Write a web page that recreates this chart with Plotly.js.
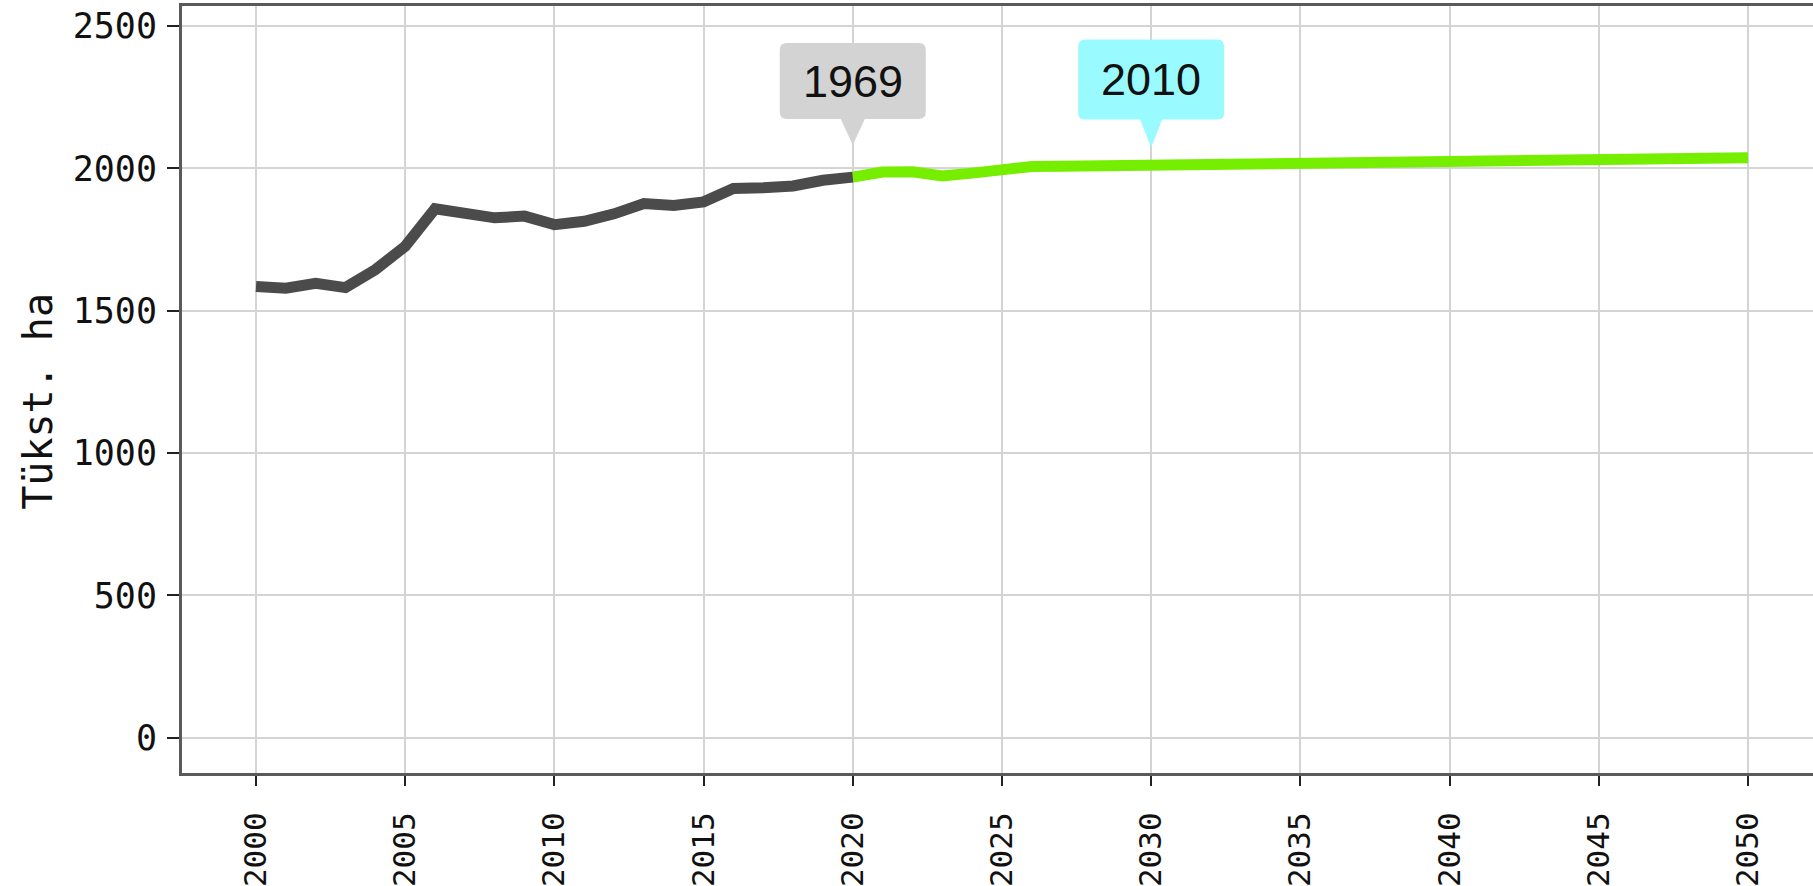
<!DOCTYPE html>
<html>
<head>
<meta charset="utf-8">
<script src="https://cdn.plot.ly/plotly-3.0.1.min.js"></script>
<style>
  html, body { margin: 0; padding: 0; background: #ffffff; }
  #chart { width: 1813px; height: 886px; }
</style>
</head>
<body>
<div id="chart"></div>
<script>
// ---- data ----
const histYears = [2000, 2001, 2002, 2003, 2004, 2005, 2006, 2007, 2008, 2009, 2010,
                   2011, 2012, 2013, 2014, 2015, 2016, 2017, 2018, 2019, 2020];
const histValues = [1585, 1579, 1596, 1581, 1644, 1726, 1858, 1841, 1826, 1832, 1802,
                    1814, 1840, 1876, 1869, 1882, 1929, 1932, 1938, 1958, 1969];

const projYears = [2020, 2021, 2022, 2023, 2024, 2025, 2026, 2027, 2028, 2029, 2030,
                   2031, 2032, 2033, 2034, 2035, 2036, 2037, 2038, 2039, 2040,
                   2041, 2042, 2043, 2044, 2045, 2046, 2047, 2048, 2049, 2050];
const projValues = [1969, 1987, 1988, 1973, 1983, 1997, 2006, 2007, 2008, 2009, 2010,
                    2011, 2013, 2014, 2015, 2016, 2018, 2019, 2020, 2022, 2023,
                    2024, 2026, 2027, 2028, 2030, 2031, 2033, 2034, 2036, 2037];

const labelYears = [2020, 2030];
const labelValues = [1969, 2010];
const labelTexts = ["1969", "2010"];

const yTickValues = [0, 500, 1000, 1500, 2000, 2500];
const yAxisTitle = "Tükst. ha";

// ---- styles ----
const labelStyles = [
  {fill: "#d3d3d3", half: 73, top: 134, bottom: 58, tip: 32, pw: 12},
  {fill: "#99faff", half: 73, top: 126, bottom: 46, tip: 18, pw: 11}
];
const r = 7;

function calloutPath(s) {
  const L = -s.half, R = s.half, T = s.top, B = s.bottom;
  return `M ${L + r},${T} H ${R - r} Q ${R},${T} ${R},${T - r} V ${B + r} Q ${R},${B} ${R - r},${B} ` +
         `H ${s.pw} L 0,${s.tip} L ${-s.pw},${B} H ${L + r} Q ${L},${B} ${L},${B + r} ` +
         `V ${T - r} Q ${L},${T} ${L + r},${T} Z`;
}

const traces = [
  {
    x: projYears, y: projValues, type: "scatter", mode: "lines",
    line: {color: "#76ee00", width: 11}, hoverinfo: "skip", showlegend: false
  },
  {
    x: histYears, y: histValues, type: "scatter", mode: "lines",
    line: {color: "#4b4b4b", width: 11}, hoverinfo: "skip", showlegend: false
  }
];

const shapes = labelYears.map((yr, i) => ({
  type: "path", xref: "x", yref: "y",
  xsizemode: "pixel", ysizemode: "pixel",
  xanchor: yr, yanchor: labelValues[i],
  path: calloutPath(labelStyles[i]),
  fillcolor: labelStyles[i].fill, line: {width: 0}, layer: "above"
}));

const annotations = labelYears.map((yr, i) => ({
  x: yr, y: labelValues[i], xref: "x", yref: "y",
  text: labelTexts[i], showarrow: false,
  yshift: (labelStyles[i].top + labelStyles[i].bottom) / 2,
  font: {family: "Liberation Sans, Arial, sans-serif", size: 45, color: "#111111"}
}));

const monoFont = "DejaVu Sans Mono, monospace";

// y axis title placed as rotated text left of the tick labels
annotations.push({
  xref: "paper", yref: "paper", x: 0, y: 0.484,
  xanchor: "center", yanchor: "middle", xshift: -144,
  textangle: -90, showarrow: false,
  text: yAxisTitle,
  font: {family: monoFont, size: 40, color: "#111111"}
});

const layout = {
  width: 1813, height: 886,
  margin: {l: 182, r: 0, t: 6, b: 113},
  paper_bgcolor: "#ffffff", plot_bgcolor: "#ffffff",
  showlegend: false,
  xaxis: {
    range: [1997.52, 2052.18],
    tick0: 2000, dtick: 5, tickmode: "linear",
    tickangle: -90,
    ticks: "outside", ticklen: 10, tickwidth: 2, tickcolor: "#222222",
    ticklabelstandoff: 14,
    tickfont: {family: monoFont, size: 31, color: "#111111"},
    showgrid: true, gridcolor: "#d4d4d4", gridwidth: 2,
    zeroline: false,
    showline: true, linecolor: "#5a5a5a", linewidth: 3, mirror: true
  },
  yaxis: {
    range: [-124, 2570],
    tickmode: "array", tickvals: yTickValues,
    ticks: "outside", ticklen: 12, tickwidth: 2, tickcolor: "#222222",
    ticklabelstandoff: 3,
    tickfont: {family: monoFont, size: 35, color: "#111111"},
    showgrid: true, gridcolor: "#d4d4d4", gridwidth: 2,
    zeroline: false,
    showline: true, linecolor: "#5a5a5a", linewidth: 3
  },
  shapes: shapes,
  annotations: annotations
};

Plotly.newPlot("chart", traces, layout, {staticPlot: true, displayModeBar: false});
</script>
</body>
</html>
